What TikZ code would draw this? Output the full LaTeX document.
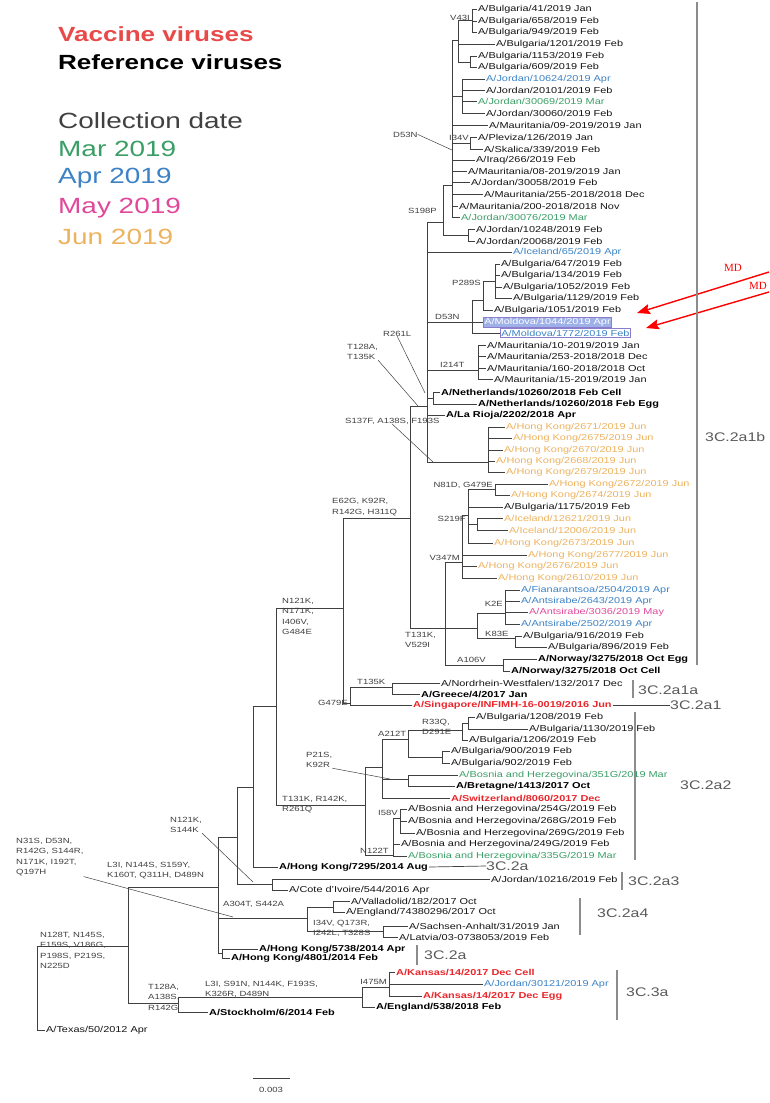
\documentclass[tikz,border=0pt]{standalone}
\usepackage{fontspec}
\setmainfont{Liberation Sans}[FakeStretch=1.27]
\newfontfamily\mdfont{Liberation Serif}
\usetikzlibrary{arrows.meta}
\definecolor{cVac}{HTML}{E8262B}
\definecolor{cKey}{HTML}{E84A4A}
\definecolor{cMar}{HTML}{3A9E66}
\definecolor{cApr}{HTML}{3C82C4}
\definecolor{cMay}{HTML}{E0489A}
\definecolor{cJun}{HTML}{EDB25E}
\definecolor{cBox}{HTML}{8C7CCC}
\definecolor{cBoxFill}{HTML}{9DB0E8}
\tikzset{
  br/.style={line width=0.7pt,black!75},
  leaf/.style={anchor=west,inner sep=1pt,font=\fontsize{8.6}{9}\selectfont,text=black!92},
  refv/.style={leaf,font=\fontsize{8.6}{9}\selectfont\bfseries,text=black},
  vacv/.style={refv,text=cVac},
  mar/.style={leaf,text=cMar},
  apr/.style={leaf,text=cApr},
  may/.style={leaf,text=cMay},
  jun/.style={leaf,text=cJun},
  mut/.style={inner sep=0pt,font=\fontsize{7.5}{10.5}\selectfont,text=black!75,align=left},
  ptr/.style={line width=0.5pt,black!75},
  bar/.style={line width=1.8pt,black!45},
  clade/.style={anchor=west,inner sep=0pt,font=\fontsize{12.5}{13}\selectfont,text=black!65},
  key/.style={anchor=west,inner sep=0pt,font=\fontsize{22}{24}\selectfont},
  keyb/.style={anchor=west,inner sep=0pt,font=\fontsize{20.5}{24}\selectfont\bfseries},
  mdarrow/.style={red,line width=1.4pt,-{Stealth[length=13pt,width=10pt,inset=2pt]}},
  mdtext/.style={inner sep=0pt,anchor=base west,text=red,font=\mdfont\fontsize{11}{12}\selectfont},
}

\begin{document}
\begin{tikzpicture}[x=1pt,y=-1pt]
  \useasboundingbox (0,0) rectangle (769,1103);

  % legend
  \node[keyb,text=cKey] (keyvac) at (58,34) {Vaccine viruses};
  \node[keyb,text=black] (keyref) at (58,62) {Reference viruses};
  \node[key,text=black!75] (keydate) at (58,121) {Collection date};
  \node[key,text=cMar] (keymar) at (58,149) {Mar 2019};
  \node[key,text=cApr] (keyapr) at (58,178) {Apr 2019};
  \node[key,text=cMay] (keymay) at (58,208) {May 2019};
  \node[key,text=cJun] (keyjun) at (58,237) {Jun 2019};

  % internal nodes
  \coordinate (root) at (37,990);
  \coordinate (n1) at (128,946);
  \coordinate (n3) at (178,1003);
  \coordinate (n4) at (362,997);
  \coordinate (n5) at (389,987);
  \coordinate (n2) at (218,887);
  \coordinate (n6) at (237,837);
  \coordinate (n7) at (307,918);
  \coordinate (n8) at (222,953);
  \coordinate (n9) at (253,787);
  \coordinate (n10) at (272,884);
  \coordinate (n11) at (276,706);
  \coordinate (n12) at (343,608);
  \coordinate (n13) at (365,805);
  \coordinate (n14) at (410,518);
  \coordinate (n15) at (350,703);
  \coordinate (n16) at (392,687);
  \coordinate (n17) at (382,767);
  \coordinate (n18) at (393,855);
  \coordinate (n19) at (408,739);
  \coordinate (n20) at (408,779);
  \coordinate (n21) at (462,730);
  \coordinate (n22) at (442,757);
  \coordinate (n23) at (468,723);
  \coordinate (n24) at (400,818);
  \coordinate (n26) at (333,907);
  \coordinate (n27) at (383,931);
  \coordinate (nb) at (427,406);
  \coordinate (nc) at (443,222);
  \coordinate (nd) at (452,185);
  \coordinate (ne) at (458,40);
  \coordinate (nv43) at (472,20);
  \coordinate (ne2) at (470,62);
  \coordinate (nj) at (462,96);
  \coordinate (ni34) at (470,143);
  \coordinate (nj2) at (468,235);
  \coordinate (nd53) at (472,322);
  \coordinate (np) at (483,300);
  \coordinate (np289) at (495,281);
  \coordinate (ni214) at (478,370);
  \coordinate (nneth) at (433,398);
  \coordinate (nhk) at (488,462);
  \coordinate (n28) at (445,628);
  \coordinate (nv347) at (462,562);
  \coordinate (ns) at (468,515);
  \coordinate (nn81) at (495,489);
  \coordinate (ns219) at (477,524);
  \coordinate (n29) at (477,628);
  \coordinate (nk2) at (505,613);
  \coordinate (nk83) at (515,638);
  \coordinate (na106) at (503,665);

  % leaves
  \node[leaf] (b41) at (477,9) {A/Bulgaria/41/2019 Jan};
  \node[leaf] (b658) at (477,21) {A/Bulgaria/658/2019 Feb};
  \node[leaf] (b949) at (477,32) {A/Bulgaria/949/2019 Feb};
  \node[leaf] (b1201) at (495,44) {A/Bulgaria/1201/2019 Feb};
  \node[leaf] (b1153) at (477,56) {A/Bulgaria/1153/2019 Feb};
  \node[leaf] (b609) at (477,67) {A/Bulgaria/609/2019 Feb};
  \node[apr] (j10624) at (485,79) {A/Jordan/10624/2019 Apr};
  \node[leaf] (j20101) at (485,90) {A/Jordan/20101/2019 Feb};
  \node[mar] (j30069) at (477,101) {A/Jordan/30069/2019 Mar};
  \node[leaf] (j30060) at (485,113) {A/Jordan/30060/2019 Feb};
  \node[leaf] (m09) at (488,125) {A/Mauritania/09-2019/2019 Jan};
  \node[leaf] (plev) at (477,137) {A/Pleviza/126/2019 Jan};
  \node[leaf] (skal) at (483,149) {A/Skalica/339/2019 Feb};
  \node[leaf] (iraq) at (475,160) {A/Iraq/266/2019 Feb};
  \node[leaf] (m08) at (467,171) {A/Mauritania/08-2019/2019 Jan};
  \node[leaf] (j30058) at (470,182) {A/Jordan/30058/2019 Feb};
  \node[leaf] (m255) at (483,194) {A/Mauritania/255-2018/2018 Dec};
  \node[leaf] (m200) at (458,206) {A/Mauritania/200-2018/2018 Nov};
  \node[mar] (j30076) at (460,217) {A/Jordan/30076/2019 Mar};
  \node[leaf] (j10248) at (475,229) {A/Jordan/10248/2019 Feb};
  \node[leaf] (j20068) at (475,241) {A/Jordan/20068/2019 Feb};
  \node[apr] (ice65) at (512,252) {A/Iceland/65/2019 Apr};
  \node[leaf] (b647) at (500,264) {A/Bulgaria/647/2019 Feb};
  \node[leaf] (b134) at (500,275) {A/Bulgaria/134/2019 Feb};
  \node[leaf] (b1052) at (502,287) {A/Bulgaria/1052/2019 Feb};
  \node[leaf] (b1129) at (512,298) {A/Bulgaria/1129/2019 Feb};
  \node[leaf] (b1051) at (493,310) {A/Bulgaria/1051/2019 Feb};
  \node[leaf,draw=cBox,fill=cBoxFill,text=white,line width=0.8pt] (md1) at (483,322) {A/Moldova/1044/2019 Apr};
  \node[leaf,draw=cBox,text=cApr,line width=0.8pt] (md2) at (500,333) {A/Moldova/1772/2019 Feb};
  \node[leaf] (m10) at (486,345) {A/Mauritania/10-2019/2019 Jan};
  \node[leaf] (m253) at (486,356) {A/Mauritania/253-2018/2018 Dec};
  \node[leaf] (m160) at (486,368) {A/Mauritania/160-2018/2018 Oct};
  \node[leaf] (m15) at (493,379) {A/Mauritania/15-2019/2019 Jan};
  \node[refv] (nethc) at (440,392) {A/Netherlands/10260/2018 Feb Cell};
  \node[refv] (nethe) at (477,404) {A/Netherlands/10260/2018 Feb Egg};
  \node[refv] (rioja) at (445,415) {A/La Rioja/2202/2018 Apr};
  \node[jun] (hk2671) at (505,427) {A/Hong Kong/2671/2019 Jun};
  \node[jun] (hk2675) at (512,438) {A/Hong Kong/2675/2019 Jun};
  \node[jun] (hk2670) at (503,450) {A/Hong Kong/2670/2019 Jun};
  \node[jun] (hk2668) at (495,461) {A/Hong Kong/2668/2019 Jun};
  \node[jun] (hk2679) at (505,472) {A/Hong Kong/2679/2019 Jun};
  \node[jun] (hk2672) at (548,484) {A/Hong Kong/2672/2019 Jun};
  \node[jun] (hk2674) at (510,495) {A/Hong Kong/2674/2019 Jun};
  \node[leaf] (b1175) at (503,507) {A/Bulgaria/1175/2019 Feb};
  \node[jun] (ice12621) at (503,518) {A/Iceland/12621/2019 Jun};
  \node[jun] (ice12006) at (508,530) {A/Iceland/12006/2019 Jun};
  \node[jun] (hk2673) at (493,543) {A/Hong Kong/2673/2019 Jun};
  \node[jun] (hk2677) at (527,555) {A/Hong Kong/2677/2019 Jun};
  \node[jun] (hk2676) at (477,566) {A/Hong Kong/2676/2019 Jun};
  \node[jun] (hk2610) at (497,578) {A/Hong Kong/2610/2019 Jun};
  \node[apr] (fian) at (520,590) {A/Fianarantsoa/2504/2019 Apr};
  \node[apr] (ant2643) at (520,601) {A/Antsirabe/2643/2019 Apr};
  \node[may] (ant3036) at (528,612) {A/Antsirabe/3036/2019 May};
  \node[apr] (ant2502) at (520,624) {A/Antsirabe/2502/2019 Apr};
  \node[leaf] (b916) at (522,636) {A/Bulgaria/916/2019 Feb};
  \node[leaf] (b896) at (547,647) {A/Bulgaria/896/2019 Feb};
  \node[refv] (nore) at (537,659) {A/Norway/3275/2018 Oct Egg};
  \node[refv] (norc) at (510,671) {A/Norway/3275/2018 Oct Cell};
  \node[leaf] (nrw) at (440,683) {A/Nordrhein-Westfalen/132/2017 Dec};
  \node[refv] (greece) at (420,694) {A/Greece/4/2017 Jan};
  \node[vacv] (sing) at (412,705) {A/Singapore/INFIMH-16-0019/2016 Jun};
  \node[leaf] (b1208) at (475,717) {A/Bulgaria/1208/2019 Feb};
  \node[leaf] (b1130) at (528,729) {A/Bulgaria/1130/2019 Feb};
  \node[leaf] (b1206) at (468,740) {A/Bulgaria/1206/2019 Feb};
  \node[leaf] (b900) at (450,751) {A/Bulgaria/900/2019 Feb};
  \node[leaf] (b902) at (450,763) {A/Bulgaria/902/2019 Feb};
  \node[mar] (bih351) at (458,775) {A/Bosnia and Herzegovina/351G/2019 Mar};
  \node[refv] (bret) at (455,786) {A/Bretagne/1413/2017 Oct};
  \node[vacv] (swiss) at (450,798) {A/Switzerland/8060/2017 Dec};
  \node[leaf] (bih254) at (407,809) {A/Bosnia and Herzegovina/254G/2019 Feb};
  \node[leaf] (bih268) at (407,821) {A/Bosnia and Herzegovina/268G/2019 Feb};
  \node[leaf] (bih269) at (415,833) {A/Bosnia and Herzegovina/269G/2019 Feb};
  \node[leaf] (bih249) at (400,844) {A/Bosnia and Herzegovina/249G/2019 Feb};
  \node[mar] (bih335) at (407,856) {A/Bosnia and Herzegovina/335G/2019 Mar};
  \node[refv] (hk7295) at (278,867) {A/Hong Kong/7295/2014 Aug};
  \node[leaf] (j10216) at (490,879) {A/Jordan/10216/2019 Feb};
  \node[leaf] (cote) at (288,890) {A/Cote d'Ivoire/544/2016 Apr};
  \node[leaf] (vall) at (350,901) {A/Valladolid/182/2017 Oct};
  \node[leaf] (eng74) at (345,912) {A/England/74380296/2017 Oct};
  \node[leaf] (sachs) at (408,926) {A/Sachsen-Anhalt/31/2019 Jan};
  \node[leaf] (latv) at (398,937) {A/Latvia/03-0738053/2019 Feb};
  \node[refv] (hk5738) at (258,949) {A/Hong Kong/5738/2014 Apr};
  \node[refv] (hk4801) at (230,958) {A/Hong Kong/4801/2014 Feb};
  \node[vacv] (kanc) at (395,972) {A/Kansas/14/2017 Dec Cell};
  \node[apr] (j30121) at (483,984) {A/Jordan/30121/2019 Apr};
  \node[vacv] (kane) at (422,996) {A/Kansas/14/2017 Dec Egg};
  \node[refv] (eng538) at (375,1007) {A/England/538/2018 Feb};
  \node[refv] (stock) at (208,1012) {A/Stockholm/6/2014 Feb};
  \node[leaf] (texas) at (45,1030) {A/Texas/50/2012 Apr};

  % branches
  \foreach \p/\c in {root/n1, root/texas, n1/n2, n1/n3, n3/n4, n3/stock,
      n4/n5, n4/eng538, n5/kanc, n5/j30121, n5/kane,
      n2/n6, n2/n7, n2/n8, n8/hk5738, n8/hk4801,
      n7/n26, n7/n27, n26/vall, n26/eng74, n27/sachs, n27/latv,
      n6/n9, n6/n10, n10/j10216, n10/cote, n9/n11, n9/hk7295,
      n11/n12, n11/n13, n12/n14, n12/n15,
      n15/n16, n15/sing, n16/nrw, n16/greece,
      n13/n17, n13/n18, n17/n19, n17/n20, n17/swiss,
      n19/n21, n19/n22, n21/n23, n21/b1206, n23/b1208, n23/b1130,
      n22/b900, n22/b902, n20/bih351, n20/bret,
      n18/n24, n18/bih249, n18/bih335, n24/bih254, n24/bih268, n24/bih269,
      n14/nb, n14/n28,
      nb/nc, nb/ice65, nb/nd53, nb/ni214, nb/nneth, nb/rioja, nb/nhk,
      nc/nd, nc/nj2, nj2/j10248, nj2/j20068,
      nd/ne, nd/nj, nd/m09, nd/ni34, nd/iraq, nd/m08, nd/j30058, nd/m255, nd/m200, nd/j30076,
      ne/nv43, ne/b1201, ne/ne2, nv43/b41, nv43/b658, nv43/b949, ne2/b1153, ne2/b609,
      nj/j10624, nj/j20101, nj/j30069, nj/j30060, ni34/plev, ni34/skal,
      nd53/np, nd53/md1, nd53/md2, np/np289, np/b1051,
      np289/b647, np289/b134, np289/b1052, np289/b1129,
      ni214/m10, ni214/m253, ni214/m160, ni214/m15,
      nneth/nethc, nneth/nethe,
      nhk/hk2671, nhk/hk2675, nhk/hk2670, nhk/hk2668, nhk/hk2679,
      n28/nv347, n28/n29, n28/na106,
      nv347/ns, nv347/hk2677, nv347/hk2676, nv347/hk2610,
      ns/nn81, ns/b1175, ns/ns219, ns/hk2673,
      nn81/hk2672, nn81/hk2674, ns219/ice12621, ns219/ice12006,
      n29/nk2, n29/nk83, nk2/fian, nk2/ant2643, nk2/ant3036, nk2/ant2502,
      nk83/b916, nk83/b896, na106/nore, na106/norc}
    \draw[br] (\p) |- (\c);

  % mutations
  \node[mut,anchor=base east] (mV43) at (470,20) {V43I};
  \node[mut,anchor=base west] (mD53a) at (393,137) {D53N};
  \coordinate (pD53a) at (452,150);
  \node[mut,anchor=base east] (mI34) at (469,140) {I34V};
  \node[mut,anchor=base west] (mS198) at (408,213) {S198P};
  \node[mut,anchor=base east] (mP289) at (481,285) {P289S};
  \node[mut,anchor=base west] (mD53b) at (435,319) {D53N};
  \node[mut,anchor=base west] (mI214) at (440,367) {I214T};
  \node[mut,anchor=base west] (mR261) at (383,336) {R261L};
  \coordinate (pR261) at (425,393);
  \node[mut,anchor=north west] (mT128) at (347,344) {T128A,\\T135K};
  \coordinate (pT128) at (418,406);
  \node[mut,anchor=base west] (mS137) at (345,423) {S137F, A138S, F193S};
  \coordinate (pS137) at (433,462);
  \node[mut,anchor=base east] (mN81) at (493,487) {N81D, G479E};
  \node[mut,anchor=base east] (mS219) at (466,521) {S219F};
  \node[mut,anchor=base east] (mV347) at (460,560) {V347M};
  \node[mut,anchor=base east] (mK2) at (503,606) {K2E};
  \node[mut,anchor=base west] (mK83) at (485,636) {K83E};
  \node[mut,anchor=north west] (mT131a) at (405,632) {T131K,\\V529I};
  \node[mut,anchor=base west] (mA106) at (457,662) {A106V};
  \node[mut,anchor=south west] (mE62) at (332,516) {E62G, K92R,\\R142G, H311Q};
  \node[mut,anchor=north west] (mN121a) at (282,598) {N121K,\\N171K,\\I406V,\\G484E};
  \node[mut,anchor=base west] (mT135) at (357,684) {T135K};
  \node[mut,anchor=base east] (mG479) at (348,705) {G479E};
  \node[mut,anchor=north west] (mR33) at (422,719) {R33Q,\\D291E};
  \node[mut,anchor=base west] (mA212) at (378,736) {A212T};
  \node[mut,anchor=north west] (mP21) at (306,752) {P21S,\\K92R};
  \coordinate (pP21) at (390,779);
  \node[mut,anchor=north west] (mT131b) at (282,796) {T131K, R142K,\\R261Q};
  \node[mut,anchor=base east] (mI58) at (398,815) {I58V};
  \node[mut,anchor=base west] (mN122) at (360,853) {N122T};
  \node[mut,anchor=north west] (mN121b) at (170,817) {N121K,\\S144K};
  \coordinate (pN121b) at (253,882);
  \node[mut,anchor=north west] (mN31) at (16,838) {N31S, D53N,\\R142G, S144R,\\N171K, I192T,\\Q197H};
  \coordinate (pN31) at (233,917);
  \node[mut,anchor=north west] (mL3a) at (107,862) {L3I, N144S, S159Y,\\K160T, Q311H, D489N};
  \node[mut,anchor=base west] (mA304) at (223,906) {A304T, S442A};
  \node[mut,anchor=north west] (mI34b) at (313,920) {I34V, Q173R,\\I242L, T328S};
  \node[mut,anchor=north west] (mN128) at (40,932) {N128T, N145S,\\F159S, V186G,\\P198S, P219S,\\N225D};
  \node[mut,anchor=north west] (mT128b) at (148,984) {T128A,\\A138S,\\R142G};
  \node[mut,anchor=north west] (mL3b) at (205,981) {L3I, S91N, N144K, F193S,\\K326R, D489N};
  \node[mut,anchor=base east] (mI475) at (387,984) {I475M};

  \draw[ptr] (mD53a.east) -- (pD53a);
  \draw[ptr] (mR261.south) -- (pR261);
  \draw[ptr] (mT128.south east) -- (pT128);
  \draw[ptr] (mS137.south) -- (pS137);
  \draw[ptr] (mP21.south east) -- (pP21);
  \draw[ptr] (mN121b.south east) -- (pN121b);
  \draw[ptr] (mN31.south east) -- (pN31);

  % MD arrows
  \node[mdtext] (mdA) at (724,271) {MD};
  \node[mdtext] (mdB) at (749,289) {MD};
  \coordinate (mdt1) at (769,272);
  \coordinate (mdh1) at (637,313);
  \coordinate (mdt2) at (769,292);
  \coordinate (mdh2) at (646,328);
  \draw[mdarrow] (mdt1) -- (mdh1);
  \draw[mdarrow] (mdt2) -- (mdh2);

  % clades
  \draw[bar] (697,2) -- (697,665);
  \node[clade] (c2a1b) at (705,437) {3C.2a1b};
  \draw[bar] (633,680) -- (633,698);
  \node[clade] (c2a1a) at (638,690) {3C.2a1a};
  \node[clade] (c2a1) at (670,705) {3C.2a1};
  \draw[br] (sing.east) -- (c2a1.west);
  \draw[bar] (635,712) -- (635,860);
  \node[clade] (c2a2) at (680,785) {3C.2a2};
  \node[clade] (c2aU) at (486,866) {3C.2a};
  \draw[br] (hk7295.east) -- (c2aU.west);
  \draw[bar] (622,872) -- (622,890);
  \node[clade] (c2a3) at (628,881) {3C.2a3};
  \draw[bar] (580,898) -- (580,935);
  \node[clade] (c2a4) at (597,913) {3C.2a4};
  \draw[bar] (417,945) -- (417,965);
  \node[clade] (c2aL) at (424,955) {3C.2a};
  \draw[bar] (617,970) -- (617,1020);
  \node[clade] (c3a) at (626,992) {3C.3a};

  % scale
  \draw[br] (253,1078) -- (290,1078);
  \node[mut,anchor=north] (scale) at (271,1087) {0.003};
\end{tikzpicture}
\end{document}
